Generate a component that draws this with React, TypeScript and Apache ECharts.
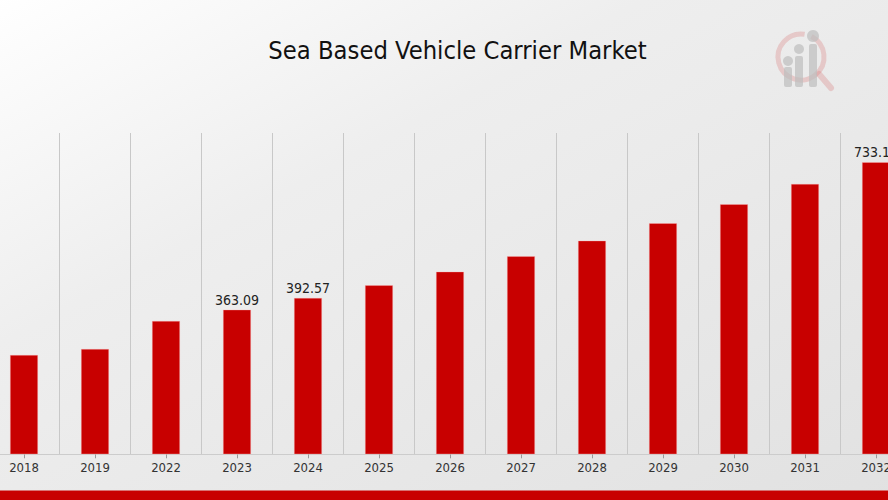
import React, { useEffect, useRef } from "react";
import * as echarts from "echarts";

const categories = ["2018", "2019", "2022", "2023", "2024", "2025", "2026", "2027", "2028", "2029", "2030", "2031", "2032"];
const marketValues = [249.3, 264.4, 334.7, 363.09, 392.57, 424.3, 458.5, 497.1, 536.3, 580.0, 627.7, 678.7, 733.1];
const labelledYears = ["2023", "2024", "2032"];
const titleText = "Sea Based Vehicle Carrier Market";

const OFFSET = 12; // container is shifted left so the plot can run past the page edges

export default function App() {
  const ref = useRef<HTMLDivElement>(null);
  useEffect(() => {
    if (!ref.current) return;
    const chart = echarts.init(ref.current, undefined, { renderer: "svg" });
    const yMax = Math.max(...marketValues) * 1.1;
    const font = "'DejaVu Sans Condensed', 'DejaVu Sans', sans-serif";
    const gx = (x: number) => x + OFFSET;
    const gray = "rgba(190,190,190,0.7)";
    const pink = "rgba(215,120,120,0.3)";
    const last = categories.length - 1;
    chart.setOption({
      animation: false,
      backgroundColor: new echarts.graphic.LinearGradient(0, 0, 1, 1, [
        { offset: 0, color: "#ffffff" },
        { offset: 0.35, color: "#eeeeee" },
        { offset: 1, color: "#e1e1e1" },
      ]),
      title: {
        text: titleText,
        left: gx(452.5),
        top: 33,
        textAlign: "center",
        textStyle: { fontFamily: font, fontSize: 25.3, fontWeight: "normal", color: "#111111" },
      },
      grid: { left: 0.5, right: 12.5, top: 133, bottom: 45.7, containLabel: false },
      xAxis: {
        type: "category",
        data: categories,
        boundaryGap: true,
        axisLine: { show: true, lineStyle: { color: "#cccccc", width: 1 } },
        axisTick: { show: true, alignWithLabel: true, length: 4, lineStyle: { color: "#999999" } },
        axisLabel: { color: "#333333", fontFamily: font, fontSize: 13, margin: 7 },
        splitLine: { show: true, lineStyle: { color: "#c8c8c8", width: 1 } },
      },
      yAxis: {
        type: "value",
        min: 0,
        max: yMax,
        show: false,
        splitLine: { show: false },
      },
      series: [
        {
          type: "bar",
          barWidth: 28,
          data: marketValues.map((v, i) => ({
            value: v,
            label: {
              show: labelledYears.includes(categories[i]),
              position: "top",
              distance: 3,
              offset: i === last ? [-4, 0] : [0, 0],
              color: "#222222",
              fontFamily: font,
              fontSize: 14,
            },
          })),
          itemStyle: { color: "#c80000", borderColor: "rgba(255,180,180,0.6)", borderWidth: 0.6 },
        },
      ],
      graphic: [
        {
          type: "rect",
          shape: { x: gx(0), y: 490.5, width: 888, height: 10 },
          style: { fill: "#c80000" },
          silent: true,
        },
        {
          type: "group",
          silent: true,
          children: [
            {
              type: "arc",
              shape: { cx: gx(801), cy: 57, r: 23, startAngle: -Math.PI * 0.35, endAngle: Math.PI * 1.55 },
              style: { stroke: pink, lineWidth: 5, fill: "none" },
            },
            {
              type: "line",
              shape: { x1: gx(819), y1: 74, x2: gx(831), y2: 88 },
              style: { stroke: pink, lineWidth: 6, lineCap: "round" },
            },
            { type: "circle", shape: { cx: gx(788), cy: 61, r: 5 }, style: { fill: gray } },
            { type: "rect", shape: { x: gx(784), y: 67, width: 8, height: 20, r: 2 }, style: { fill: gray } },
            { type: "circle", shape: { cx: gx(799), cy: 49, r: 5 }, style: { fill: gray } },
            { type: "rect", shape: { x: gx(795), y: 56, width: 8, height: 31, r: 2 }, style: { fill: gray } },
            { type: "circle", shape: { cx: gx(813), cy: 36, r: 6 }, style: { fill: gray } },
            { type: "rect", shape: { x: gx(809), y: 44, width: 8, height: 43, r: 2 }, style: { fill: gray } },
          ],
        },
      ],
    });
    return () => chart.dispose();
  }, []);
  return (
    <div
      ref={ref}
      style={{ position: "fixed", left: -OFFSET, top: 0, width: 936, height: 500 }}
    />
  );
}
